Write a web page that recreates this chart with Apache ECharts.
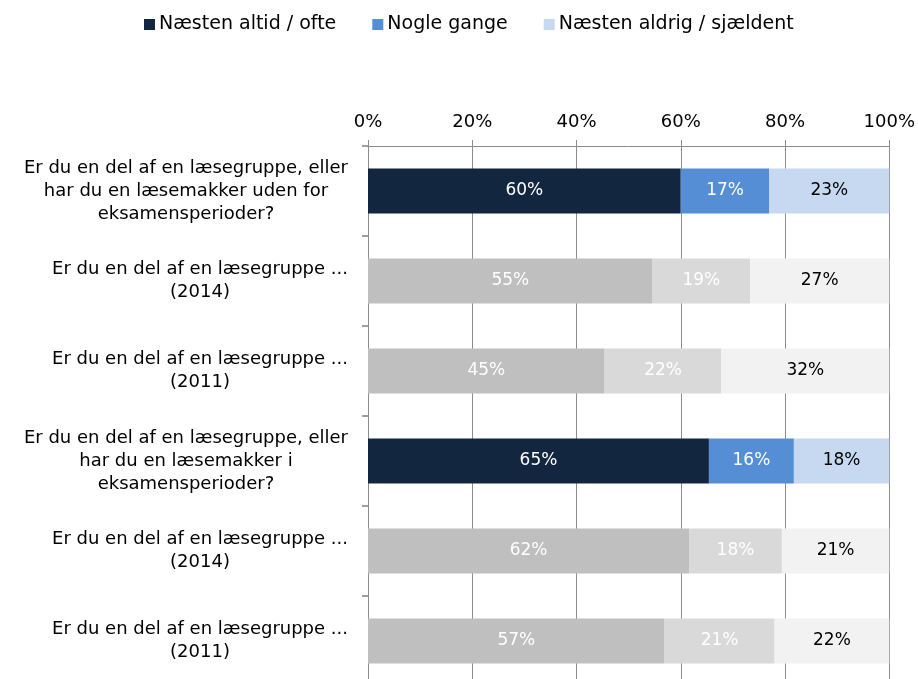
<!DOCTYPE html>
<html>
<head>
<meta charset="utf-8">
<script src="https://cdn.jsdelivr.net/npm/echarts@6/dist/echarts.min.js"></script>
<style>
  html, body { margin: 0; padding: 0; background: #fff; overflow: hidden; }
  /* a little taller than the window: the last band runs past the bottom edge */
  #chart { width: 918px; height: 686px; }
</style>
</head>
<body>
<div id="chart"></div>
<script>
// spørgsmål (top -> bund)
var categories = [
  "Er du en del af en læsegruppe, eller\nhar du en læsemakker uden for\neksamensperioder?",
  "Er du en del af en læsegruppe ...\n(2014)",
  "Er du en del af en læsegruppe ...\n(2011)",
  "Er du en del af en læsegruppe, eller\nhar du en læsemakker i\neksamensperioder?",
  "Er du en del af en læsegruppe ...\n(2014)",
  "Er du en del af en læsegruppe ...\n(2011)"
];
var seriesNames = ["Næsten altid / ofte", "Nogle gange", "Næsten aldrig / sjældent"];
var oftenValues = [60.0, 54.6, 45.4, 65.4, 61.6, 56.9];
var sometimesValues = [17.0, 18.7, 22.4, 16.3, 17.8, 21.1];
var rarelyValues = [23.0, 26.7, 32.2, 18.3, 20.6, 22.0];
var xTicks = [0, 20, 40, 60, 80, 100];

var FONT = "DejaVu Sans";
var mainColors = ["#13263f", "#558ed5", "#c6d9f1"];
var greyColors = ["#bfbfbf", "#d9d9d9", "#f2f2f2"];
var labelColors = ["#ffffff", "#ffffff", "#000000"];
var gridColor = "#8c8c8c";

// år i parentes = sammenligningsrække (grå)
function isCurrent(i) {
  return !/\(\d{4}\)/.test(categories[i]);
}

function buildSeries(idx, values) {
  return {
    name: seriesNames[idx],
    type: "bar",
    stack: "total",
    barWidth: "50%",
    itemStyle: { color: mainColors[idx] },
    label: {
      show: true,
      position: "inside",
      fontFamily: FONT,
      fontSize: 17,
      color: labelColors[idx],
      formatter: function (p) { return Math.round(p.value) + "%"; }
    },
    emphasis: { disabled: true },
    data: values.map(function (v, i) {
      return {
        value: v,
        itemStyle: { color: isCurrent(i) ? mainColors[idx] : greyColors[idx] }
      };
    })
  };
}

var chart = echarts.init(document.getElementById("chart"), null, { renderer: "canvas" });

var option = {
  backgroundColor: "#ffffff",
  animation: false,
  legend: {
    top: 10,
    left: 139,
    itemWidth: 11,
    itemHeight: 11,
    itemGap: 36,
    icon: "rect",
    textStyle: { fontFamily: FONT, fontSize: 19, color: "#000", padding: [0, 0, 0, -1] },
    data: seriesNames
  },
  grid: {
    left: 368,
    right: 28,
    top: 146,
    bottom: 0,
    containLabel: false
  },
  xAxis: {
    type: "value",
    position: "top",
    min: xTicks[0],
    max: xTicks[xTicks.length - 1],
    interval: xTicks[1] - xTicks[0],
    axisLine: { show: true, lineStyle: { color: gridColor, width: 1 } },
    axisTick: { show: true, length: 6, lineStyle: { color: gridColor } },
    splitLine: { show: true, lineStyle: { color: gridColor, width: 1 } },
    axisLabel: {
      fontFamily: FONT,
      fontSize: 18,
      color: "#000",
      margin: 15,
      formatter: "{value}%"
    }
  },
  yAxis: {
    type: "category",
    inverse: true,
    data: categories,
    axisLine: { show: true, lineStyle: { color: gridColor, width: 1 } },
    axisTick: { show: true, length: 6, lineStyle: { color: "#7f7f7f", width: 1.5 } },
    axisLabel: {
      margin: 20,
      align: "right",
      formatter: function (v) {
        return v.split("\n").map(function (s) { return "{c|" + s + "}"; }).join("\n");
      },
      rich: {
        c: {
          align: "center",
          fontFamily: FONT,
          fontSize: 18,
          lineHeight: 23,
          color: "#000"
        }
      }
    }
  },
  series: [
    buildSeries(0, oftenValues),
    buildSeries(1, sometimesValues),
    buildSeries(2, rarelyValues)
  ]
};

chart.setOption(option);
</script>
</body>
</html>
